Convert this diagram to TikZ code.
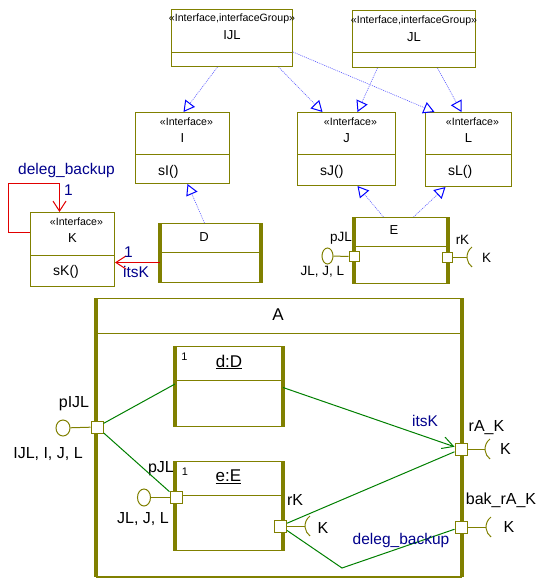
\documentclass[tikz,border=0pt]{standalone}
\usepackage{fontspec}
\setmainfont{Liberation Sans}
\usetikzlibrary{arrows.meta,shapes.geometric,calc}
\definecolor{olivebox}{RGB}{128,128,0}
\definecolor{linkgreen}{RGB}{0,128,0}
\definecolor{genblue}{RGB}{0,0,255}
\definecolor{genline}{RGB}{90,90,255}
\definecolor{labnavy}{RGB}{0,0,140}
\definecolor{assocred}{RGB}{225,0,0}
\tikzset{
  box/.style={draw=olivebox,line width=1pt,fill=white,inner sep=0pt,anchor=north west},
  divider/.style={olivebox,line width=1pt},
  port/.style={draw=olivebox,line width=1pt,fill=white,minimum size=11pt,inner sep=0pt},
  lolli/.style={ellipse,draw=olivebox,line width=1pt,fill=white,minimum width=12pt,minimum height=16pt,inner sep=0pt},
  portline/.style={olivebox,line width=1pt},
  gen/.style={genline,line width=0.6pt,dash pattern=on 1pt off 1pt,
    -{Triangle[open,length=11pt,width=12pt,color=genblue,line width=1pt]}},
  assoc/.style={assocred,line width=1pt,-{Straight Barb[length=10pt,width=13pt]}},
  link/.style={linkgreen,line width=1pt},
  stereo/.style={font=\fontsize{10.6}{12}\selectfont},
  cname/.style={font=\fontsize{13}{15}\selectfont},
  meth/.style={font=\fontsize{14}{16}\selectfont,anchor=west,inner sep=0pt},
  slab/.style={font=\fontsize{13.5}{15}\selectfont,inner sep=0pt},
  lab/.style={font=\fontsize{16}{18}\selectfont,inner sep=0pt},
  pname/.style={font=\fontsize{17}{19}\selectfont,inner sep=0pt},
  mult/.style={font=\fontsize{11}{13}\selectfont,inner sep=0pt},
  navylab/.style={text=labnavy,font=\fontsize{15.5}{18}\selectfont,inner sep=0pt}
}

\begin{document}
\begin{tikzpicture}[x=1pt,y=-1pt]
  \useasboundingbox (0,0) rectangle (544,582);

  % class boxes: name/left/top/width/height/divider
  \foreach \n/\x/\y/\w/\h/\d in {IJL/171/9/121/57/43, JL/352/10/123/57/42,
      I/135/112/94/71/42, J/297/112/98/73/42, L/425/112/86/74/42,
      K/30/212/84/74/43, D/160/223/100/59/29, E/354/217/93/66/29,
      A/96/298/365/278/35, dD/175/346/107/80/34, eE/175/461/107/89/34}
  {
    \node[box,minimum width=\w pt,minimum height=\h pt] (\n) at (\x,\y) {};
    \draw[divider] ([yshift=-\d pt]\n.north west) -- ([yshift=-\d pt]\n.north east);
  }
  \foreach \n/\t in {D/3.5,E/3.5,A/4.5,dD/4,eE/4}
    \draw[olivebox,line width=\t pt] (\n.north west) -- (\n.south west)
      (\n.north east) -- (\n.south east);
  \draw[olivebox,line width=2pt] (A.south west) -- (A.south east);

  % texts
  \node[stereo] at ([yshift=-10pt]IJL.north) {«Interface,interfaceGroup»};
  \node[cname] at ([yshift=-26.5pt]IJL.north) {IJL};
  \node[stereo] at ([yshift=-11pt]JL.north) {«Interface,interfaceGroup»};
  \node[cname] at ([yshift=-27pt]JL.north) {JL};
  \foreach \n in {I,J,L,K} {
    \node[stereo] at ([xshift=4pt,yshift=-10pt]\n.north) {«Interface»};
    \node[cname] at ([yshift=-26.5pt]\n.north) {\n};
    \node[meth] at ([xshift=23pt,yshift=-59.5pt]\n.north west) {s\n()};
  }
  \node[cname] at (204,237) {D};
  \node[cname] at (394,230) {E};
  \node[pname] at (278,315) {A};
  \node[pname] at (229,362) {\underline{d:D}};
  \node[pname] at (228.5,477) {\underline{e:E}};
  \node[mult] at (184.5,357) {1};
  \node[mult] at (185,472) {1};

  % generalizations
  \draw[gen] ([xshift=-14.5pt]IJL.south) -- ([xshift=1pt]I.north);
  \draw[gen] ([xshift=46.5pt]IJL.south) -- ([xshift=-24pt]J.north);
  \draw[gen] ([yshift=-14pt]IJL.east) -- ([xshift=-34pt]L.north);
  \draw[gen] ([xshift=-36.5pt]JL.south) -- ([xshift=11pt]J.north);
  \draw[gen] ([xshift=23.5pt]JL.south) -- ([xshift=-7pt]L.north);
  \draw[gen] ([xshift=-6pt]D.north) -- ([xshift=5pt]I.south);
  \draw[gen] ([xshift=-17.5pt]E.north) -- ([xshift=11pt]J.south);
  \draw[gen] ([xshift=12.5pt]E.north) -- ([xshift=-23pt]L.south);

  % associations
  \draw[assoc] ([yshift=17pt]K.west) -| (8,183) -| ([xshift=-13pt]K.north);
  \coordinate (dk) at ([yshift=-9.5pt]D.west);
  \draw[assoc] (dk) -- (dk -| K.east);
  \node[navylab] at (66.5,170) {deleg\_backup};
  \node[navylab] at (68.5,190) {1};
  \node[navylab] at (128.5,252) {1};
  \node[navylab] at (136,272) {itsK};

  % ports of E
  \node[port,minimum size=10pt] (pJL) at (354,256.5) {};
  \node[lolli,minimum width=11pt] (lolE) at (327.5,256) {};
  \draw[portline] (lolE) -- (pJL);
  \node[port,minimum size=10pt] (rK) at (447,257) {};
  \coordinate (sockE) at (467,257);
  \draw[portline] (rK) -- (sockE);
  \node[slab] at (341,238) {pJL};
  \node[slab] at (322.5,272) {JL, J, L};
  \node[slab] at (462.5,239.5) {rK};
  \node[slab] at (486.5,258) {K};

  % ports of e:E
  \node[port,minimum size=12pt] (pJLe) at (176,497.5) {};
  \node[lolli,minimum width=13pt,minimum height=17pt] (lole) at (144,497.5) {};
  \draw[portline] (lole) -- (pJLe);
  \node[port,minimum size=12pt] (rKe) at (280.5,526) {};
  \coordinate (socke) at (305,526);
  \draw[portline] (rKe) -- (socke);
  \node[lab] at (161,469) {pJL};
  \node[lab] at (143,519) {JL, J, L};
  \node[lab] at (295,500) {rK};
  \node[lab] at (323,528) {K};

  % ports of A
  \node[port,minimum size=12pt] (pIJL) at (97,427) {};
  \node[lolli,minimum width=14pt] (lolA) at (63,428) {};
  \draw[portline] (lolA) -- (pIJL);
  \node[port,minimum size=12pt] (rAK) at (461,449) {};
  \coordinate (sockA) at (485,449);
  \draw[portline] (rAK) -- (sockA);
  \node[port,minimum size=12pt] (bakrAK) at (461,527) {};
  \coordinate (sockB) at (486,527);
  \draw[portline] (bakrAK) -- (sockB);
  \foreach \s in {sockE,socke,sockA,sockB}
    \draw[portline] (\s) ++(5pt,10pt) arc[start angle=127,end angle=233,radius=12.5pt];
  \node[lab] at (74,404) {pIJL};
  \node[lab] at (48,454) {IJL, I, J, L};
  \node[lab] at (486.5,427.5) {rA\_K};
  \node[lab] at (505.5,449) {K};
  \node[lab] at (501,500) {bak\_rA\_K};
  \node[lab] at (509,527) {K};

  % links
  \draw[link] (pIJL) -- ([yshift=2.5pt]dD.west);
  \draw[link] (pIJL) -- (pJLe);
  \draw[link,-{Straight Barb[length=11pt,width=12pt]}] ([yshift=-1pt]dD.east) -- (rAK);
  \draw[link] (rKe) -- (rAK);
  \coordinate (bend) at (342,568);
  \draw[link] (rKe) -- (bend) -- (bakrAK);
  \node[navylab] at (425,420.5) {itsK};
  \node[navylab] at (401,540) {deleg\_backup};
\end{tikzpicture}
\end{document}
